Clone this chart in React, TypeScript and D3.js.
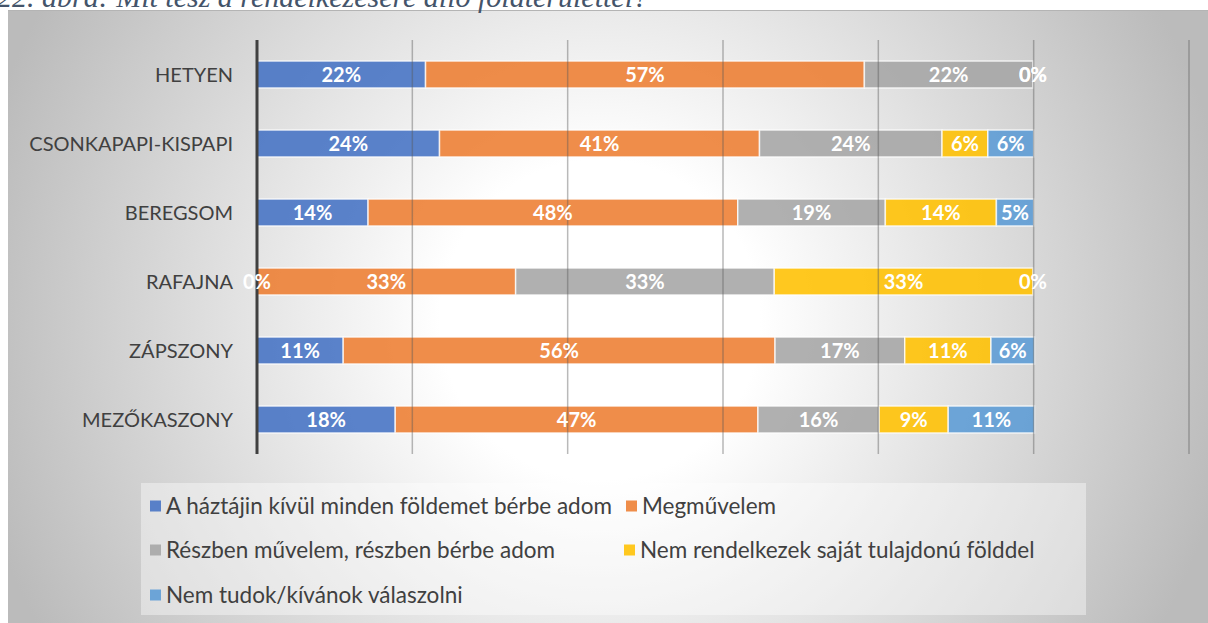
import { useRef, useEffect } from 'react';
import * as d3 from 'd3';

const W = 1208;
const H = 623;

const categories = ['HETYEN', 'CSONKAPAPI-KISPAPI', 'BEREGSOM', 'RAFAJNA', 'ZÁPSZONY', 'MEZŐKASZONY'];
const seriesNames = [
  'A háztájin kívül minden földemet bérbe adom',
  'Megművelem',
  'Részben művelem, részben bérbe adom',
  'Nem rendelkezek saját tulajdonú földdel',
  'Nem tudok/kívánok válaszolni',
];
const berbeAdom = [21.7, 23.5, 14.3, 0, 11.1, 17.8];
const megmuvelem = [56.5, 41.2, 47.6, 33.3, 55.6, 46.7];
const reszben = [21.7, 23.5, 19.0, 33.3, 16.7, 15.6];
const nincsFold = [0, 5.9, 14.3, 33.3, 11.1, 8.9];
const nemTudom = [0, 5.9, 4.8, 0, 5.6, 11.1];
const xTicks = [0, 20, 40, 60, 80, 100, 120];

const COLORS = ['#4472c4', '#ed7d31', '#a5a5a5', '#ffc000', '#5b9bd5'];
const FONT = 'Lato, "Open Sans", sans-serif';

export default function App() {
  const svgRef = useRef<SVGSVGElement>(null);

  useEffect(() => {
    const svg = d3.select(svgRef.current);
    svg.selectAll('*').remove();

    const values = [berbeAdom, megmuvelem, reszben, nincsFold, nemTudom];
    const rows = categories.map((c, i) => {
      const r: any = { cat: c };
      seriesNames.forEach((s, k) => { r[s] = values[k][i]; });
      return r;
    });
    const stacked = d3.stack<any>().keys(seriesNames)(rows);

    const x = d3.scaleLinear().domain([0, 120]).range([257, 1189]);
    const y = d3.scaleBand<string>()
      .domain(categories)
      .range([40, 454])
      .paddingInner(0.61)
      .paddingOuter(0.305);

    // background
    const defs = svg.append('defs');
    const grad = defs.append('radialGradient')
      .attr('id', 'bg-grad')
      .attr('gradientUnits', 'userSpaceOnUse')
      .attr('cx', 600).attr('cy', 320).attr('r', 640);
    grad.append('stop').attr('offset', '0%').attr('stop-color', '#ffffff');
    grad.append('stop').attr('offset', '25%').attr('stop-color', '#ffffff');
    grad.append('stop').attr('offset', '100%').attr('stop-color', '#bbbbbb');

    svg.append('rect')
      .attr('x', 8).attr('y', 10)
      .attr('width', W - 8).attr('height', H - 10)
      .attr('fill', 'url(#bg-grad)');
    svg.append('line')
      .attr('x1', 8).attr('x2', W).attr('y1', 10.5).attr('y2', 10.5)
      .attr('stroke', '#b4b4b4').attr('stroke-width', 1);

    // title (cut off at the top, as in the source page)
    svg.append('text')
      .attr('x', -3).attr('y', 7)
      .attr('fill', '#44546a')
      .attr('font-family', '"Liberation Serif", "DejaVu Serif", serif')
      .attr('font-style', 'italic')
      .attr('font-size', '30px')
      .text('22. ábra: Mit tesz a rendelkezésére álló földterülettel?');

    const [y0, y1] = y.range();

    // bars
    const layers = svg.append('g')
      .selectAll('g')
      .data(stacked)
      .join('g')
      .attr('fill', (_, i) => COLORS[i]);

    layers.selectAll('rect')
      .data(d => d)
      .join('rect')
      .attr('x', d => x(d[0]))
      .attr('y', d => y(d.data.cat)!)
      .attr('width', d => Math.max(0, x(d[1]) - x(d[0])))
      .attr('height', y.bandwidth())
      .attr('fill-opacity', 0.88)
      .attr('stroke', 'rgba(255,255,255,0.75)')
      .attr('stroke-width', 1.5);

    // gridlines drawn over the bars (they show through in the original)
    svg.append('g')
      .selectAll('line')
      .data(xTicks.slice(1))
      .join('line')
      .attr('x1', d => x(d)).attr('x2', d => x(d))
      .attr('y1', y0).attr('y2', y1)
      .attr('stroke', '#595959')
      .attr('stroke-opacity', 0.42)
      .attr('stroke-width', 1.5);

    // category axis
    svg.append('line')
      .attr('x1', x(0)).attr('x2', x(0))
      .attr('y1', y0).attr('y2', y1)
      .attr('stroke', '#404040')
      .attr('stroke-width', 3);

    svg.append('g')
      .selectAll('text')
      .data(categories)
      .join('text')
      .attr('x', 233)
      .attr('y', d => y(d)! + y.bandwidth() / 2)
      .attr('dy', '0.36em')
      .attr('text-anchor', 'end')
      .attr('fill', '#404040')
      .attr('font-family', FONT)
      .attr('font-size', '20px')
      .text(d => d);

    // data labels, on top of everything
    svg.append('g')
      .selectAll('g')
      .data(stacked)
      .join('g')
      .selectAll('text')
      .data(d => d)
      .join('text')
      .attr('x', d => x((d[0] + d[1]) / 2))
      .attr('y', d => y(d.data.cat)! + y.bandwidth() / 2)
      .attr('dy', '0.36em')
      .attr('text-anchor', 'middle')
      .attr('fill', '#ffffff')
      .attr('font-family', FONT)
      .attr('font-weight', 700)
      .attr('font-size', '20px')
      .text(d => `${Math.round(d[1] - d[0])}%`);

    // legend
    const lg = svg.append('g');
    lg.append('rect')
      .attr('x', 141).attr('y', 483)
      .attr('width', 1086 - 141).attr('height', 615 - 483)
      .attr('fill', '#ffffff')
      .attr('fill-opacity', 0.4);

    const itemX = [150, 626, 150, 624, 150];
    const rowY = [506, 550, 595];
    seriesNames.forEach((name, i) => {
      const cx = itemX[i];
      const cy = rowY[Math.floor(i / 2)];
      lg.append('rect')
        .attr('x', cx).attr('y', cy - 5.5)
        .attr('width', 11).attr('height', 11)
        .attr('fill', COLORS[i])
        .attr('fill-opacity', 0.88);
      lg.append('text')
        .attr('x', cx + 16).attr('y', cy)
        .attr('dy', '0.36em')
        .attr('fill', '#404040')
        .attr('font-family', FONT)
        .attr('font-size', '22.5px')
        .text(name);
    });
  }, []);

  return (
    <div style={{ position: 'absolute', left: 0, top: 0, width: W, height: H, overflow: 'hidden', background: '#fff' }}>
      <svg ref={svgRef} width={W} height={H} style={{ display: 'block' }} />
    </div>
  );
}
